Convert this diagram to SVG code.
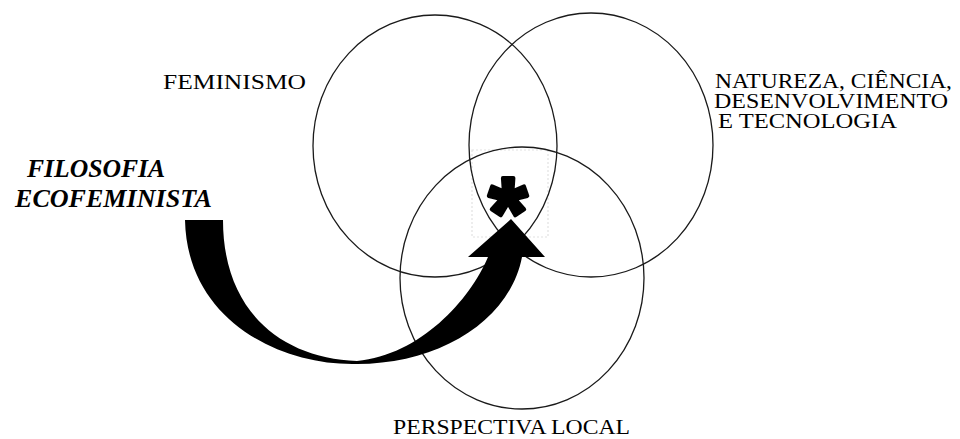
<svg xmlns="http://www.w3.org/2000/svg" width="960" height="439" viewBox="0 0 960 439">
<style>
.c{fill:none;stroke:#1a1a1a;stroke-width:1.3}
.t{font-family:"Liberation Serif","Times New Roman",serif;font-size:20px;fill:#000}
.b{font-family:"Liberation Serif","Times New Roman",serif;font-size:25px;font-weight:bold;font-style:italic;fill:#000}
</style>
<rect width="960" height="439" fill="#fff"/>
<rect x="472" y="150" width="76" height="87" fill="none" stroke="#e2e2e2" stroke-width="1.2" stroke-dasharray="2,2"/>
<g id="feminismo">
<ellipse class="c" cx="435" cy="146" rx="122" ry="131"/>
<text class="t" x="163" y="89" textLength="143" lengthAdjust="spacingAndGlyphs">FEMINISMO</text>
</g>
<g id="natureza">
<ellipse class="c" cx="591" cy="145" rx="122" ry="132"/>
<text class="t" x="715" y="88" textLength="237" lengthAdjust="spacingAndGlyphs">NATUREZA, CIÊNCIA,</text>
<text class="t" x="714" y="108" textLength="234" lengthAdjust="spacingAndGlyphs">DESENVOLVIMENTO</text>
<text class="t" x="718" y="128" textLength="179" lengthAdjust="spacingAndGlyphs">E TECNOLOGIA</text>
</g>
<g id="perspectiva">
<ellipse class="c" cx="522" cy="278" rx="122" ry="131"/>
<text class="t" x="393" y="434" textLength="237" lengthAdjust="spacingAndGlyphs">PERSPECTIVA LOCAL</text>
</g>
<g id="filosofia">
<text class="b" x="27" y="177" textLength="138" lengthAdjust="spacingAndGlyphs">FILOSOFIA</text>
<text class="b" x="15" y="207" textLength="197" lengthAdjust="spacingAndGlyphs">ECOFEMINISTA</text>
</g>
<g id="asterisco">
<text x="508" y="247" text-anchor="middle" font-family="Liberation Sans, Arial, sans-serif" font-weight="bold" font-size="100" fill="#000" stroke="#000" stroke-width="4" stroke-linejoin="round">*</text>
</g>
<g id="connectors">
<path fill="#000" d="M185,220 L223,220 C223,310 280,358 357,361 C420,355 470,300 488,257 L468,257 L511,219 L545,257 L522,257 C510,320 440,364 357,364 C280,366 187,320 185,220 Z"/>
</g>
</svg>
